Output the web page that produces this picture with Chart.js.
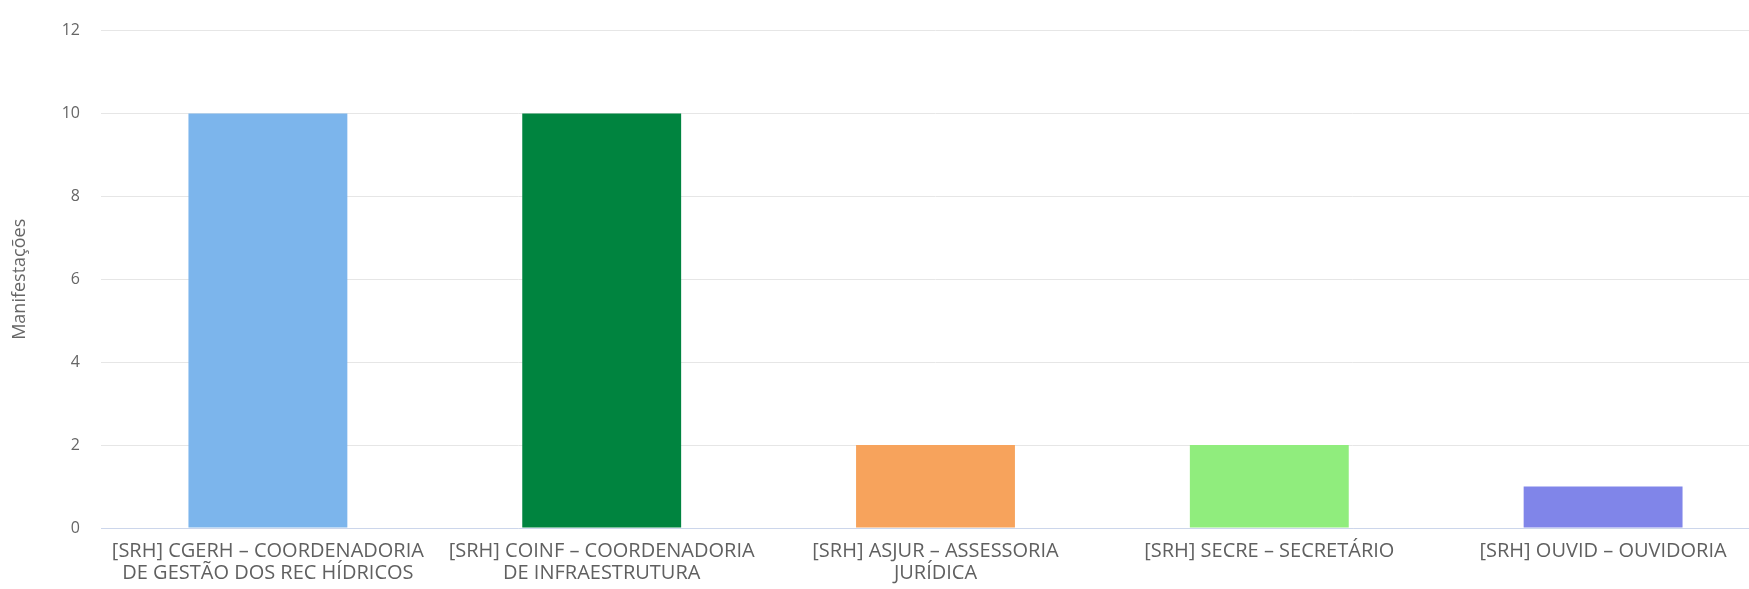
<!DOCTYPE html>
<html>
<head>
<meta charset="utf-8">
<script src="https://cdn.jsdelivr.net/npm/chart.js@4"></script>
<style>
  html, body { margin: 0; padding: 0; background: #ffffff; overflow: hidden; }
  #wrap { width: 1770px; height: 589px; }
</style>
</head>
<body>
<div id="wrap"><canvas id="c" width="1770" height="589"></canvas></div>
<script>
const categories = [
  ["[SRH] CGERH – COORDENADORIA", "DE GESTÃO DOS REC HÍDRICOS"],
  ["[SRH] COINF – COORDENADORIA", "DE INFRAESTRUTURA"],
  ["[SRH] ASJUR – ASSESSORIA", "JURÍDICA"],
  ["[SRH] SECRE – SECRETÁRIO"],
  ["[SRH] OUVID – OUVIDORIA"]
];
const values = [10, 10, 2, 2, 1];
const barColors = ["#7cb5ec", "#00843f", "#f7a35c", "#90ed7d", "#8085e9"];
const yTicks = [0, 2, 4, 6, 8, 10, 12];
const yTitle = "Manifestações";

const FONT = "'Open Sans', 'DejaVu Sans', sans-serif";

new Chart(document.getElementById('c'), {
  type: 'bar',
  data: {
    labels: categories,
    datasets: [{
      data: values,
      backgroundColor: barColors,
      borderWidth: 0,
      barPercentage: 0.476,
      categoryPercentage: 1.0
    }]
  },
  options: {
    responsive: false,
    devicePixelRatio: 1,
    animation: false,
    layout: { padding: { top: 6, right: 0, left: 0, bottom: 0 } },
    plugins: { legend: { display: false }, tooltip: { enabled: false } },
    scales: {
      x: {
        grid: { display: false, drawTicks: false },
        border: { display: true, color: '#ccd6eb', width: 1 },
        ticks: {
          color: '#606060',
          font: { family: FONT, size: 20, lineHeight: 1.06 },
          padding: 13,
          maxRotation: 0,
          autoSkip: false
        },
        afterFit: (s) => { s.height = 61; }
      },
      y: {
        min: 0,
        max: 12,
        afterBuildTicks: (s) => { s.ticks = yTicks.map(v => ({ value: v })); },
        grid: { color: '#e6e6e6', drawTicks: false, lineWidth: 1 },
        border: { display: false },
        ticks: {
          color: '#666666',
          font: { family: FONT, size: 16 },
          padding: 21
        },
        title: {
          display: true,
          text: yTitle,
          color: '#666666',
          font: { family: FONT, size: 18 },
          padding: { top: 9, bottom: 0 }
        },
        afterFit: (s) => { s.width = 101; }
      }
    }
  }
});
</script>
</body>
</html>
